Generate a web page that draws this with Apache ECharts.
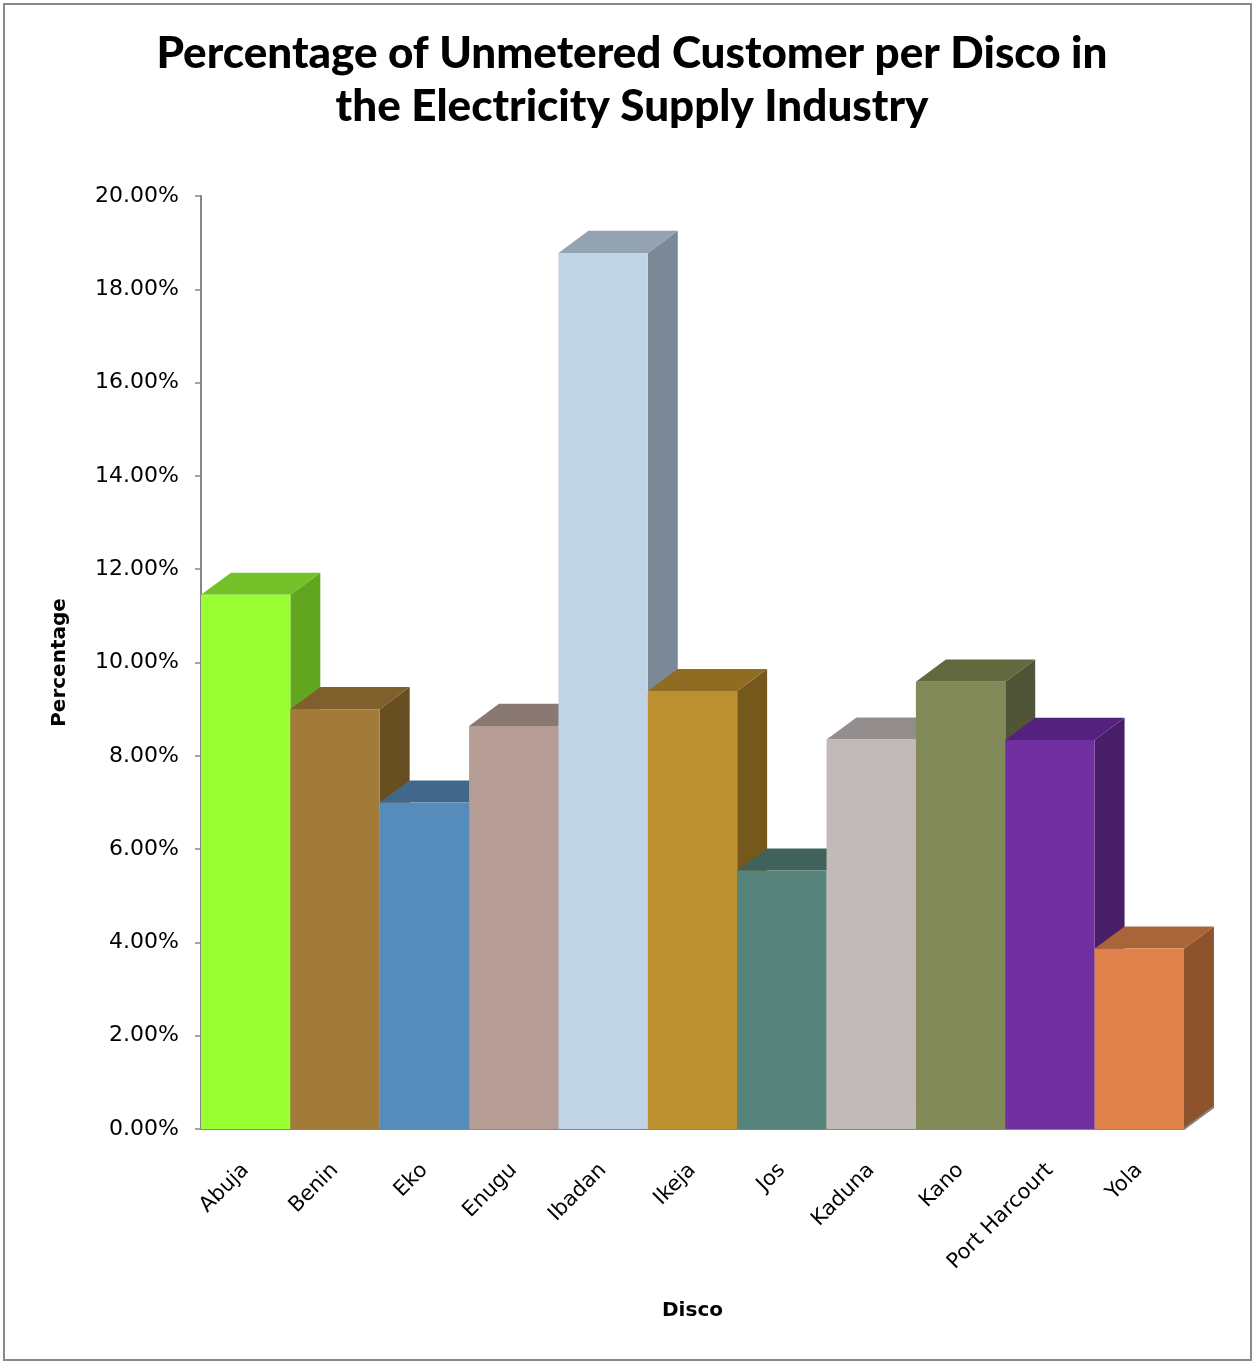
<!DOCTYPE html>
<html>
<head>
<meta charset="utf-8">
<script src="https://cdn.jsdelivr.net/npm/echarts@6/dist/echarts.min.js"></script>
<style>
  html, body { margin: 0; padding: 0; background: #fff; }
  #chart { width: 1254px; height: 1363px; }
</style>
</head>
<body>
<div id="chart"></div>
<script>
// Distribution companies (Discos)
const discos = ['Abuja', 'Benin', 'Eko', 'Enugu', 'Ibadan', 'Ikeja', 'Jos', 'Kaduna', 'Kano', 'Port Harcourt', 'Yola'];
// Share of unmetered customers, in percent
const unmeteredPct = [11.45, 9.00, 7.00, 8.64, 18.78, 9.39, 5.54, 8.35, 9.59, 8.34, 3.87];
// Face colours per column: front, top, side
const frontColors = ['#99FF33', '#A27B38', '#558CBB', '#B59D95', '#C1D4E5', '#BD902F', '#57847A', '#C1BAB9', '#838A5A', '#7030A0', '#E0834A'];
const topColors   = ['#75C12A', '#7F5F2B', '#41688B', '#8A7872', '#93A3B1', '#8F6C22', '#40625A', '#938E8D', '#63683F', '#55217E', '#A96437'];
const sideColors  = ['#62A620', '#684F22', '#365776', '#73625E', '#7B8896', '#75591C', '#35524B', '#7A7575', '#515538', '#481E66', '#8D532D'];
// Y axis ticks
const yMin = 0, yMax = 20, yStep = 2;

const chart = echarts.init(document.getElementById('chart'), null, { renderer: 'canvas' });

const axisGray = '#868686';
const bodyFont = 'DejaVu Sans';

function renderColumn(params, api) {
  const i = api.value(0);
  const v = api.value(1);
  const top = api.coord([i, v]);
  const base = api.coord([i, 0]);
  const w = api.size([1, 0])[0];
  const x0 = top[0] - w / 2;
  const x1 = top[0] + w / 2;
  // oblique depth of the column
  const dx = w * 0.335;
  const dy = -w * 0.247;
  const children = [
    {
      type: 'polygon',
      shape: { points: [[x1, top[1]], [x1 + dx, top[1] + dy], [x1 + dx, base[1] + dy], [x1, base[1]]] },
      style: { fill: sideColors[i] }
    },
    {
      type: 'polygon',
      shape: { points: [[x0, top[1]], [x0 + dx, top[1] + dy], [x1 + dx, top[1] + dy], [x1, top[1]]] },
      style: { fill: topColors[i] }
    },
    {
      type: 'rect',
      shape: { x: x0, y: top[1], width: w, height: base[1] - top[1] },
      style: { fill: frontColors[i] }
    }
  ];
  if (i === discos.length - 1) {
    // receding edge of the floor at the right end
    children.push({
      type: 'line',
      shape: { x1: x1, y1: base[1], x2: x1 + dx, y2: base[1] + dy },
      style: { stroke: axisGray, lineWidth: 2 }
    });
  }
  return { type: 'group', children: children };
}

chart.setOption({
  backgroundColor: '#ffffff',
  animation: false,
  title: {
    text: 'Percentage of Unmetered Customer per Disco in\nthe Electricity Supply Industry',
    left: '50%',
    top: 22,
    textAlign: 'center',
    textStyle: {
      fontFamily: 'Lato',
      fontWeight: 900,
      fontSize: 44,
      lineHeight: 53,
      color: '#000'
    }
  },
  graphic: [
    {
      type: 'rect',
      shape: { x: 4, y: 4, width: 1247, height: 1356 },
      style: { fill: 'none', stroke: '#8a8a8a', lineWidth: 2 },
      silent: true
    }
  ],
  grid: { left: 201, right: 70, top: 196, bottom: 234, containLabel: false },
  xAxis: {
    type: 'category',
    data: discos,
    boundaryGap: true,
    axisTick: { show: false },
    axisLine: { show: true, lineStyle: { color: axisGray, width: 2 } },
    axisLabel: {
      rotate: 45,
      margin: 38,
      fontFamily: bodyFont,
      fontSize: 21,
      color: '#000',
      interval: 0
    },
    name: 'Disco',
    nameLocation: 'middle',
    nameGap: 172,
    nameTextStyle: { fontFamily: bodyFont, fontWeight: 'bold', fontSize: 20, color: '#000' }
  },
  yAxis: {
    type: 'value',
    min: yMin,
    max: yMax,
    interval: yStep,
    axisLine: { show: true, lineStyle: { color: axisGray, width: 2 } },
    axisTick: { show: true, length: 6, lineStyle: { color: axisGray, width: 1.5 } },
    splitLine: { show: false },
    axisLabel: {
      formatter: v => v.toFixed(2) + '%',
      margin: 22,
      fontFamily: bodyFont,
      fontSize: 22,
      color: '#000'
    },
    name: 'Percentage',
    nameLocation: 'middle',
    nameGap: 131,
    nameRotate: 90,
    nameTextStyle: { fontFamily: bodyFont, fontWeight: 'bold', fontSize: 20, color: '#000' }
  },
  series: [
    {
      type: 'custom',
      renderItem: renderColumn,
      data: unmeteredPct.map((v, i) => [i, v]),
      encode: { x: 0, y: 1 },
      clip: false
    }
  ]
});
</script>
</body>
</html>
